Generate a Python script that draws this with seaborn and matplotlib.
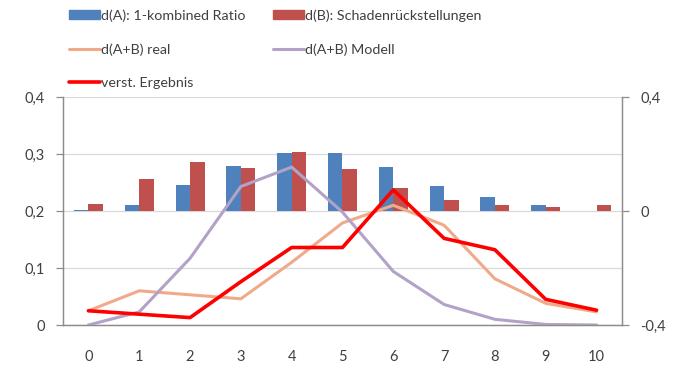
import numpy as np
import pandas as pd
import matplotlib
matplotlib.use("Agg")
import matplotlib.pyplot as plt
from matplotlib.patches import Patch
from matplotlib.lines import Line2D
import seaborn as sns

categories = list(range(11))
d_a = [0.002, 0.021, 0.092, 0.157, 0.202, 0.202, 0.155, 0.088, 0.050, 0.021, 0.001]
d_b = [0.024, 0.112, 0.171, 0.150, 0.208, 0.146, 0.082, 0.039, 0.021, 0.015, 0.021]
real = [0.025, 0.060, 0.053, 0.046, 0.110, 0.179, 0.210, 0.175, 0.081, 0.038, 0.023]
modell = [0.000, 0.023, 0.117, 0.243, 0.277, 0.198, 0.094, 0.036, 0.010, 0.001, 0.000]
ergebnis = [0.025, 0.019, 0.013, 0.076, 0.136, 0.136, 0.237, 0.152, 0.132, 0.045, 0.026]

left_ticks = [0, 0.1, 0.2, 0.3, 0.4]
left_labels = ["0", "0,1", "0,2", "0,3", "0,4"]
right_ticks = [-0.4, 0, 0.4]
right_labels = ["-0,4", "0", "0,4"]

lab_a = "d(A): 1-kombined Ratio"
lab_b = "d(B): Schadenrückstellungen"
lab_real = "d(A+B) real"
lab_mod = "d(A+B) Modell"
lab_erg = "verst. Ergebnis"

c_a = "#4F81BD"
c_b = "#C0504D"
c_real = "#F0AA8A"
c_mod = "#B3A2C7"
c_erg = "#FF0000"
txt = "#404040"
spine_c = "#8C8C8C"
grid_c = "#D9D9D9"

sns.set_style("white")
plt.rcParams["font.family"] = ["Lato", "DejaVu Sans"]

fig = plt.figure(figsize=(6.79, 3.67), dpi=100)
ax = fig.add_axes([0.0928, 0.1144, 0.8232, 0.6213])
ax2 = ax.twinx()

# bars on the secondary axis (baseline 0 of the -0.4..0.4 scale)
bars = pd.DataFrame({
    "k": [str(c) for c in categories] * 2,
    "v": d_a + d_b,
    "s": [lab_a] * len(categories) + [lab_b] * len(categories),
})
sns.barplot(data=bars, x="k", y="v", hue="s", ax=ax2,
            palette=[c_a, c_b], width=0.57, gap=0, saturation=1,
            legend=False, linewidth=0, order=[str(c) for c in categories])

# lines on the primary axis, drawn on top
lines = pd.DataFrame({"x": categories, "real": real, "mod": modell, "erg": ergebnis})
sns.lineplot(data=lines, x="x", y="real", ax=ax, color=c_real, lw=2.2)
sns.lineplot(data=lines, x="x", y="mod", ax=ax, color=c_mod, lw=2.2)
sns.lineplot(data=lines, x="x", y="erg", ax=ax, color=c_erg, lw=2.6)

ax.set_zorder(ax2.get_zorder() + 1)
ax.patch.set_visible(False)

ax.set_xlim(-0.5, 10.5)
ax2.set_xlim(-0.5, 10.5)
ax.set_ylim(0, 0.4)
ax2.set_ylim(-0.4, 0.4)

ax.set_yticks(left_ticks)
ax.set_yticklabels(left_labels)
ax2.set_yticks(right_ticks)
ax2.set_yticklabels(right_labels)
ax2.set_yticks([-0.2, 0.2], minor=True)
ax2.grid(True, which="both", axis="y", color=grid_c, lw=0.9)
ax2.set_axisbelow(True)
ax.grid(False)

ax.set_xticks(categories)
ax.set_xticklabels([str(c) for c in categories])
ax.set_xticks(np.arange(-0.5, 11, 1), minor=True)
ax.tick_params(axis="x", which="major", length=0, pad=18, labelsize=10.5, colors=txt)
ax.tick_params(axis="x", which="minor", length=5, width=0.9, color=spine_c, direction="out")
ax.tick_params(axis="y", length=5, width=0.9, color=spine_c, labelsize=10.5,
               labelcolor=txt, direction="out", pad=8)
ax2.tick_params(axis="y", which="major", length=5, width=0.9, color=spine_c,
                labelsize=10.5, labelcolor=txt, direction="out", pad=8)
ax2.tick_params(axis="y", which="minor", length=0)
ax2.tick_params(axis="x", length=0, labelbottom=False)

for a in (ax, ax2):
    a.set_xlabel("")
    a.set_ylabel("")
    a.spines["top"].set_visible(False)
    for s in ("left", "right", "bottom"):
        a.spines[s].set_color(spine_c)
        a.spines[s].set_linewidth(0.9)

handles = [
    Patch(color=c_a, label=lab_a),
    Line2D([], [], color=c_real, lw=2.2, label=lab_real),
    Line2D([], [], color=c_erg, lw=2.6, label=lab_erg),
    Patch(color=c_b, label=lab_b),
    Line2D([], [], color=c_mod, lw=2.2, label=lab_mod),
]
leg = fig.legend(handles=handles, ncol=2, loc="upper left",
                 bbox_to_anchor=(0.083, 1.01), frameon=False,
                 fontsize=10.3, handlelength=2.15, handleheight=0.6,
                 handletextpad=0.1, labelspacing=1.5, columnspacing=1.9,
                 labelcolor=txt)

fig.savefig("out.png", dpi=100)
